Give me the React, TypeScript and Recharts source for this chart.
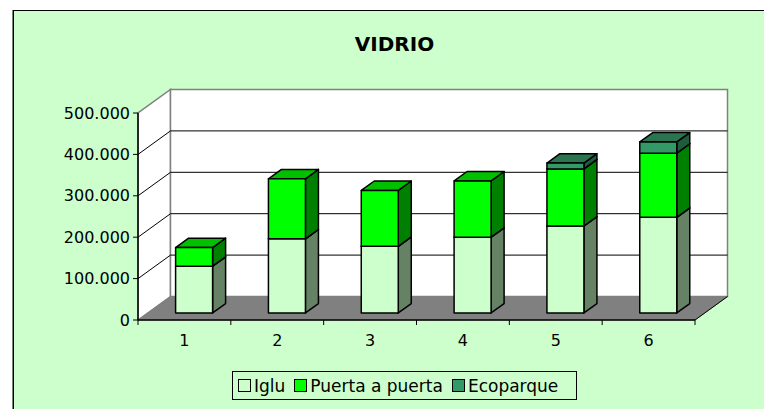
import React from 'react';
import {
  BarChart,
  Bar,
  XAxis,
  YAxis,
  ReferenceArea,
  ReferenceLine,
} from 'recharts';

const categories = ['1', '2', '3', '4', '5', '6'];
const igluValues = [113000, 179000, 161000, 183000, 210000, 231000];
const puertaValues = [45000, 145000, 135000, 136000, 138000, 155000];
const ecoValues = [0, 0, 0, 0, 14000, 27000];
const yTicks = [0, 100000, 200000, 300000, 400000, 500000];
const gridValues = [100000, 200000, 300000, 400000];

const seriesKeys = ['iglu', 'puerta', 'eco'];
const seriesNames = ['Iglu', 'Puerta a puerta', 'Ecoparque'];
const seriesColors = [
  { front: '#CCFFCC', side: '#658265', top: '#99CC99' },
  { front: '#00FF00', side: '#008000', top: '#00C000' },
  { front: '#339966', side: '#1F5C3D', top: '#2A7550' },
];

const data = categories.map((name, i) => ({
  name,
  iglu: igluValues[i],
  puerta: puertaValues[i],
  eco: ecoValues[i],
}));

// 3d depth of the floor, and where the bars sit inside it
const DX = 32.5;
const DY = -23.5;
const BAR_POS = 0.3;
const BAR_DEPTH = 0.4;

const PLOT_LEFT = 138;
const PLOT_RIGHT = 695;
const FONT = '"DejaVu Sans", sans-serif';

const fmt = (v: number) => String(v).replace(/\B(?=(\d{3})+(?!\d))/g, '.');

const Block = (props: any) => {
  const { x, y, width, height, colors } = props;
  if (!height || height <= 0) return <g />;
  const fx = x + DX * BAR_POS;
  const fy = y + DY * BAR_POS;
  const bx = DX * BAR_DEPTH;
  const by = DY * BAR_DEPTH;
  const line = { stroke: '#000', strokeWidth: 1.5, strokeLinejoin: 'round' as const };
  return (
    <g>
      <polygon
        points={`${fx + width},${fy + height} ${fx + width},${fy} ${fx + width + bx},${fy + by} ${fx + width + bx},${fy + height + by}`}
        fill={colors.side}
        {...line}
      />
      <polygon
        points={`${fx},${fy} ${fx + width},${fy} ${fx + width + bx},${fy + by} ${fx + bx},${fy + by}`}
        fill={colors.top}
        {...line}
      />
      <rect x={fx} y={fy} width={width} height={height} fill={colors.front} {...line} />
    </g>
  );
};

const Walls = (props: any) => {
  const { x, y, width, height } = props;
  const b = y + height;
  return (
    <g>
      <polygon
        points={`${x},${b} ${x},${y} ${x + DX},${y + DY} ${x + DX},${b + DY}`}
        fill="#fff"
        stroke="#808080"
        strokeWidth={1.5}
      />
      <rect x={x + DX} y={y + DY} width={width} height={height} fill="#fff" stroke="#808080" strokeWidth={1.5} />
      <polygon
        points={`${x},${b} ${x + width},${b} ${x + width + DX},${b + DY} ${x + DX},${b + DY}`}
        fill="#808080"
        stroke="#808080"
      />
      <line x1={x + width} y1={b} x2={x + width + DX} y2={b + DY} stroke="#000" strokeWidth={1} />
    </g>
  );
};

const GridLine = (props: any) => {
  const { x1, y1, x2 } = props;
  return (
    <polyline
      points={`${x1},${y1} ${x1 + DX},${y1 + DY} ${x2 + DX},${y1 + DY}`}
      fill="none"
      stroke="#000"
      strokeWidth={1}
    />
  );
};

const XTick = (props: any) => {
  const { x, y, payload, index } = props;
  const bw = (PLOT_RIGHT - PLOT_LEFT) / categories.length;
  const axisY = y - 15;
  return (
    <g>
      <line x1={x - bw / 2} y1={axisY} x2={x - bw / 2} y2={axisY + 5} stroke="#000" />
      {index === categories.length - 1 && (
        <line x1={x + bw / 2} y1={axisY} x2={x + bw / 2} y2={axisY + 5} stroke="#000" />
      )}
      <text x={x} y={y} dy="0.71em" textAnchor="middle" fontFamily={FONT} fontSize={16} fill="#000">
        {payload.value}
      </text>
    </g>
  );
};

export default function App() {
  return (
    <div
      style={{
        position: 'absolute',
        left: 0,
        top: 0,
        width: 764,
        height: 409,
        background: '#fff',
        overflow: 'hidden',
      }}
    >
      <div
        style={{
          position: 'absolute',
          left: 13,
          top: 10,
          width: 800,
          height: 450,
          background: '#CCFFCC',
          borderTop: '1px solid #000',
          borderLeft: '1px solid #000',
          boxShadow: '-1px 0 0 #808080',
        }}
      />
      <div
        style={{
          position: 'absolute',
          left: 0,
          top: 34,
          width: 789,
          textAlign: 'center',
          fontFamily: FONT,
          fontWeight: 'bold',
          fontSize: 20,
          lineHeight: '20px',
          color: '#000',
        }}
      >
        VIDRIO
      </div>
      <div style={{ position: 'absolute', left: 0, top: 0 }}>
        <BarChart
          width={764}
          height={409}
          data={data}
          margin={{ top: 113, right: 764 - PLOT_RIGHT, left: PLOT_LEFT - 70, bottom: 49 }}
          barCategoryGap="30%"
        >
          <ReferenceArea y1={0} y2={500000} shape={<Walls />} zIndex={-90} />
          {gridValues.map((v) => (
            <ReferenceLine key={v} y={v} shape={<GridLine />} zIndex={-80} />
          ))}
          <XAxis
            dataKey="name"
            height={40}
            tickLine={false}
            tickSize={5}
            tickMargin={10}
            axisLine={{ stroke: '#000', strokeWidth: 1.5 }}
            tick={<XTick />}
            interval={0}
          />
          <YAxis
            width={70}
            domain={[0, 500000]}
            ticks={yTicks}
            tickFormatter={fmt}
            tickSize={5}
            tickMargin={3}
            axisLine={{ stroke: '#000', strokeWidth: 1.5 }}
            tickLine={{ stroke: '#000' }}
            tick={{ fill: '#000', fontSize: 16, fontFamily: FONT }}
          />
          {seriesKeys.map((key, i) => (
            <Bar
              key={key}
              dataKey={key}
              name={seriesNames[i]}
              stackId="a"
              isAnimationActive={false}
              shape={(p: any) => <Block {...p} colors={seriesColors[i]} />}
            />
          ))}
        </BarChart>
      </div>
      <div
        style={{
          position: 'absolute',
          left: 232,
          top: 371,
          width: 345,
          height: 29,
          boxSizing: 'border-box',
          border: '1px solid #000',
          display: 'flex',
          alignItems: 'center',
          paddingLeft: 5,
          fontFamily: FONT,
          fontSize: 17,
          color: '#000',
        }}
      >
        {seriesNames.map((name, i) => (
          <div key={name} style={{ display: 'flex', alignItems: 'center', marginRight: 9 }}>
            <div
              style={{
                width: 11,
                height: 11,
                border: '1px solid #000',
                background: seriesColors[i].front,
                marginRight: 3,
              }}
            />
            <span>{name}</span>
          </div>
        ))}
      </div>
    </div>
  );
}
